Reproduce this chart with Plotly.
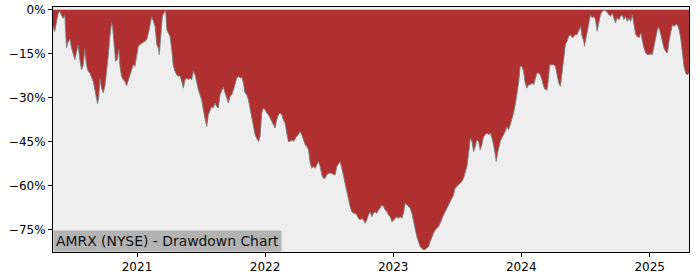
import datetime as dt
import plotly.graph_objects as go

# Decimal-year positions of the samples
year_pos = [
    2020.346, 2020.359, 2020.372, 2020.385, 2020.398, 2020.411, 2020.424, 2020.438, 2020.451, 2020.464,
    2020.477, 2020.490, 2020.503, 2020.516, 2020.529, 2020.542, 2020.555, 2020.568, 2020.581, 2020.594,
    2020.607, 2020.620, 2020.633, 2020.646, 2020.659, 2020.672, 2020.685, 2020.693, 2020.703, 2020.711,
    2020.724, 2020.737, 2020.750, 2020.763, 2020.776, 2020.789, 2020.802, 2020.810, 2020.820, 2020.833,
    2020.846, 2020.859, 2020.867, 2020.880, 2020.893, 2020.906, 2020.919, 2020.932, 2020.945, 2020.958,
    2020.971, 2020.984, 2020.997, 2021.010, 2021.023, 2021.036, 2021.049, 2021.063, 2021.076, 2021.089,
    2021.102, 2021.115, 2021.128, 2021.141, 2021.154, 2021.167, 2021.174, 2021.185, 2021.198, 2021.211,
    2021.224, 2021.232, 2021.245, 2021.258, 2021.271, 2021.284, 2021.297, 2021.310, 2021.323, 2021.336,
    2021.349, 2021.362, 2021.375, 2021.388, 2021.401, 2021.414, 2021.427, 2021.440, 2021.453, 2021.466,
    2021.479, 2021.492, 2021.505, 2021.518, 2021.531, 2021.544, 2021.557, 2021.570, 2021.583, 2021.596,
    2021.609, 2021.622, 2021.635, 2021.648, 2021.661, 2021.674, 2021.688, 2021.701, 2021.714, 2021.727,
    2021.740, 2021.753, 2021.766, 2021.779, 2021.792, 2021.805, 2021.818, 2021.831, 2021.844, 2021.857,
    2021.870, 2021.883, 2021.896, 2021.909, 2021.922, 2021.935, 2021.948,
    2021.961, 2021.974, 2021.987, 2022.000, 2022.013, 2022.026, 2022.039, 2022.052, 2022.065, 2022.078,
    2022.091, 2022.104, 2022.117, 2022.130, 2022.143, 2022.156, 2022.169, 2022.182, 2022.195, 2022.208,
    2022.221, 2022.234, 2022.247, 2022.260, 2022.273, 2022.286, 2022.299, 2022.313, 2022.326, 2022.339,
    2022.352, 2022.365, 2022.378, 2022.391, 2022.404, 2022.417, 2022.430, 2022.443, 2022.456, 2022.469,
    2022.482, 2022.495, 2022.508, 2022.521, 2022.534, 2022.547, 2022.560, 2022.573, 2022.586, 2022.599,
    2022.612, 2022.625, 2022.638, 2022.651, 2022.664, 2022.677, 2022.690, 2022.703, 2022.716, 2022.729,
    2022.742, 2022.755, 2022.768, 2022.781, 2022.794, 2022.807, 2022.820,
    2022.833, 2022.846, 2022.859, 2022.872, 2022.885, 2022.898, 2022.911, 2022.924, 2022.938, 2022.951,
    2022.964, 2022.977, 2022.990, 2023.003, 2023.016, 2023.029, 2023.042, 2023.055, 2023.068, 2023.081,
    2023.094, 2023.107, 2023.120, 2023.133, 2023.146, 2023.159, 2023.172, 2023.185, 2023.198, 2023.211,
    2023.224, 2023.237, 2023.250, 2023.263, 2023.276, 2023.289, 2023.302, 2023.315, 2023.328, 2023.341,
    2023.354, 2023.367, 2023.380, 2023.393, 2023.406, 2023.419, 2023.432, 2023.445, 2023.458, 2023.471,
    2023.484, 2023.497, 2023.510, 2023.523, 2023.536, 2023.549, 2023.563, 2023.576, 2023.589, 2023.602,
    2023.615, 2023.628, 2023.641, 2023.654, 2023.667, 2023.680, 2023.693, 2023.706, 2023.719, 2023.732,
    2023.745, 2023.758, 2023.771, 2023.784, 2023.797, 2023.805, 2023.815, 2023.823, 2023.836, 2023.849,
    2023.862, 2023.875, 2023.888, 2023.901, 2023.914, 2023.927, 2023.940, 2023.953, 2023.966, 2023.979,
    2023.992, 2024.005, 2024.018, 2024.031, 2024.044, 2024.057, 2024.070, 2024.083, 2024.096, 2024.109,
    2024.122, 2024.135, 2024.148, 2024.161, 2024.174, 2024.188, 2024.201, 2024.214, 2024.221, 2024.240,
    2024.253, 2024.266, 2024.279, 2024.292, 2024.305, 2024.318, 2024.331, 2024.344, 2024.357, 2024.370,
    2024.383, 2024.396, 2024.409, 2024.422, 2024.435, 2024.448, 2024.461,
    2024.474, 2024.487, 2024.492, 2024.500, 2024.513, 2024.526, 2024.539, 2024.552, 2024.565, 2024.578,
    2024.591, 2024.604, 2024.617, 2024.630, 2024.643, 2024.656, 2024.669, 2024.682, 2024.695, 2024.708,
    2024.721, 2024.734, 2024.747, 2024.760, 2024.773, 2024.786, 2024.799, 2024.812, 2024.826, 2024.839,
    2024.852, 2024.865, 2024.878, 2024.891, 2024.904, 2024.917, 2024.930, 2024.943, 2024.956, 2024.969,
    2024.982, 2024.995, 2025.008, 2025.021, 2025.034, 2025.047, 2025.060, 2025.073, 2025.086, 2025.099,
    2025.112, 2025.125, 2025.138, 2025.151, 2025.164, 2025.177, 2025.190, 2025.203, 2025.216, 2025.229,
    2025.242, 2025.255, 2025.268, 2025.281, 2025.294, 2025.307,
]

# Drawdown from running peak, in percent
drawdown_pct = [
    -5.5, -7.5, -4.5, -1.5, -0.5, -1.5, -3.0, -2.0, -13.0, -11.0,
    -10.0, -13.0, -15.0, -17.0, -14.5, -12.0, -17.0, -20.5, -19.0, -13.5,
    -19.0, -21.0, -21.6, -23.3, -24.4, -27.3, -30.7, -32.0, -29.5, -23.5,
    -26.7, -28.4, -26.1, -21.6, -15.9, -9.1, -4.5, -5.7, -11.4, -17.6,
    -17.0, -13.6, -19.3, -22.7, -23.9, -24.4, -25.9, -23.9, -22.2, -20.5,
    -18.7, -19.3, -16.5, -12.5, -11.9, -11.4, -11.1, -10.8, -10.2, -8.0,
    -4.5, -2.3, -4.0, -5.7, -11.9, -13.1, -15.3, -9.1, -2.3, -1.0,
    -0.3, -6.8, -8.0, -9.1, -13.6, -19.3, -21.0, -22.2, -22.7, -22.5,
    -24.4, -26.7, -23.9, -23.3, -23.9, -23.3, -23.9, -21.0, -22.2, -25.0,
    -27.3, -29.0, -30.7, -34.1, -36.9, -39.8, -35.8, -34.1, -33.0, -33.5,
    -31.8, -33.0, -33.5, -29.0, -27.3, -26.4, -28.4, -30.1, -31.8, -29.5,
    -29.0, -27.3, -25.6, -23.3, -22.7, -23.3, -23.0, -25.0, -28.4, -29.0,
    -30.7, -33.5, -36.9, -39.2, -42.6, -43.8, -44.9,
    -43.2, -35.2, -33.5, -34.1, -35.2, -35.8, -36.9, -38.1, -39.2, -40.3,
    -37.5, -35.8, -35.2, -35.8, -37.5, -38.6, -42.0, -44.9, -44.9, -44.3,
    -44.9, -43.8, -43.2, -42.6, -41.5, -42.6, -44.3, -46.0, -46.6, -47.7,
    -52.3, -54.0, -53.4, -54.0, -52.8, -51.7, -53.4, -56.2, -57.4, -57.4,
    -56.2, -55.7, -55.7, -55.7, -56.2, -56.2, -53.4, -52.3, -51.7, -54.0,
    -56.8, -59.1, -61.9, -64.2, -67.0, -68.8, -69.3, -69.3, -69.9, -71.0,
    -71.6, -71.0, -71.6, -72.7, -71.6, -69.9, -68.8,
    -70.5, -69.3, -68.8, -69.3, -68.2, -67.6, -66.5, -67.0, -68.2, -68.8,
    -69.9, -70.5, -72.2, -71.6, -71.0, -70.5, -71.0, -70.5, -71.0, -69.3,
    -65.9, -66.5, -67.0, -67.6, -69.3, -72.2, -75.0, -77.3, -79.0, -80.7,
    -81.2, -81.8, -81.6, -81.2, -80.7, -79.0, -77.3, -76.1, -75.0, -74.4,
    -73.9, -72.7, -71.0, -69.9, -68.8, -67.6, -66.5, -65.3, -64.2, -63.1,
    -60.8, -60.2, -59.7, -59.1, -58.5, -57.4, -55.1, -53.4, -48.9, -43.7,
    -44.9, -48.3, -46.6, -44.3, -44.9, -47.7, -46.0, -43.2, -42.6, -42.0,
    -42.6, -42.0, -43.7, -46.0, -49.4, -51.7, -48.9, -47.1, -44.9, -43.7,
    -42.6, -41.5, -39.8, -40.9, -39.2, -37.5, -35.2, -32.4, -29.0, -25.0,
    -19.3, -19.3, -21.0, -25.0, -26.7, -25.6, -25.6, -25.0, -25.6, -23.9,
    -21.6, -21.6, -22.2, -23.9, -26.1, -27.3, -27.3, -22.7, -18.8, -18.8,
    -18.8, -19.3, -22.2, -25.0, -26.1, -21.6, -15.3, -11.9, -10.8, -9.1,
    -8.5, -9.6, -9.1, -8.5, -8.5, -6.8, -5.7,
    -9.1, -10.8, -12.5, -10.8, -6.8, -4.5, -1.7, -2.8, -2.3, -3.4,
    -7.4, -4.5, -1.7, -0.6, -0.3, -0.3, -1.1, -1.7, -2.3, -1.1,
    -2.8, -4.5, -2.8, -3.4, -2.3, -1.7, -3.4, -2.3, -4.0, -2.8,
    -4.0, -1.7, -5.1, -8.5, -9.1, -9.6, -7.9, -10.8, -13.1, -14.8,
    -15.3, -15.3, -15.1, -15.3, -12.5, -9.6, -6.8, -6.0, -8.5, -11.4,
    -13.1, -14.2, -14.8, -10.8, -7.4, -5.1, -5.7, -5.1, -5.1, -6.8,
    -9.6, -15.3, -19.3, -21.6, -22.2, -21.6,
]

y_ticks = [0, -15, -30, -45, -60, -75]
y_tick_labels = ["0%", "\u221215%", "\u221230%", "\u221245%", "\u221260%", "\u221275%"]
x_tick_years = [2021, 2022, 2023, 2024, 2025]
title_text = "AMRX (NYSE) - Drawdown Chart"


def to_date(yf):
    y = int(yf)
    start = dt.datetime(y, 1, 1)
    end = dt.datetime(y + 1, 1, 1)
    return start + (end - start) * (yf - y)


dates = [to_date(v) for v in year_pos]

fig = go.Figure()
fig.add_trace(go.Scatter(
    x=dates, y=drawdown_pct, mode="lines", fill="tozeroy",
    fillcolor="#B03030", line=dict(color="rgba(120,128,128,0.85)", width=1),
    hoverinfo="skip", showlegend=False,
))

fig.add_annotation(
    xref="paper", yref="paper", x=0, y=0, xanchor="left", yanchor="bottom",
    text=title_text, showarrow=False, bgcolor="#B3B3B3", borderpad=2,
    font=dict(family="DejaVu Sans", size=13.9, color="#111111"),
)

fig.update_layout(
    width=700, height=280, margin=dict(l=53, r=11, t=7, b=28, autoexpand=False),
    paper_bgcolor="white", plot_bgcolor="#EEEEEE",
    font=dict(family="DejaVu Sans", size=12, color="black"),
    showlegend=False,
)
fig.update_xaxes(
    range=[dates[0], dates[-1]], showgrid=False, zeroline=False, automargin=False,
    tickvals=[dt.datetime(y, 1, 1) for y in x_tick_years],
    ticktext=[str(y) for y in x_tick_years],
    ticks="outside", ticklen=4, tickcolor="black",
    showline=True, linecolor="black", linewidth=1, mirror=True,
)
fig.update_yaxes(
    range=[-82.5, 0.9], showgrid=False, zeroline=False, automargin=False,
    tickvals=y_ticks, ticktext=y_tick_labels,
    ticks="outside", ticklen=4, tickcolor="black",
    showline=True, linecolor="black", linewidth=1, mirror=True,
)

fig.write_html("out.html")
